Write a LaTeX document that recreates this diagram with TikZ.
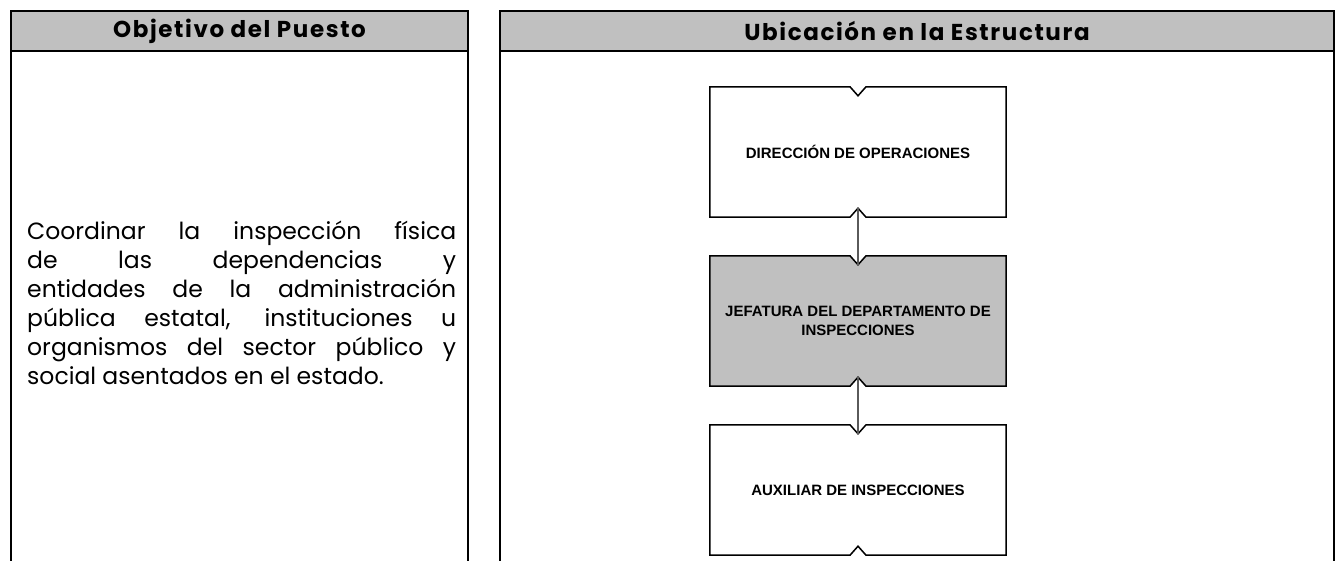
\documentclass[tikz,border=0pt]{standalone}
\usepackage{fontspec}
\setmainfont{Poppins}
\newfontfamily\headfont{Poppins}[LetterSpace=7]
\newfontfamily\boxfont{Liberation Sans}
\usetikzlibrary{backgrounds}
\definecolor{headgray}{HTML}{C0C0C0}
\definecolor{linkgray}{HTML}{5A5A5A}
% notched org-chart box drawn round a named node
\newcommand{\notchbox}[2][]{%
  \draw[line width=1.5pt,#1] (#2.north west) -- ([xshift=-8pt]#2.north)
    -- ([yshift=-9pt]#2.north) -- ([xshift=8pt]#2.north) -- (#2.north east)
    -- (#2.south east) -- ([xshift=8pt]#2.south) -- ([yshift=9pt]#2.south)
    -- ([xshift=-8pt]#2.south) -- (#2.south west) -- cycle;}

\begin{document}
\begin{tikzpicture}
[x=1pt,y=-1pt,%
  panel/.style={line width=2pt},%
  headtext/.style={font=\headfont\bfseries\fontsize{23}{27}\selectfont},%
  orgbox/.style={minimum width=296pt,minimum height=130pt,inner sep=0pt,%
    align=center,font=\boxfont\bfseries\fontsize{15}{18.5}\selectfont},%
  link/.style={draw=linkgray,line width=2pt}]
\useasboundingbox (0,0) rectangle (1340,561);
% left panel
\draw[panel,fill=headgray] (11,11) rectangle (468,51);
\draw[panel] (11,51) -- (11,570) (468,51) -- (468,570);
\node[headtext] (objhead) at (239.5,31) {Objetivo del Puesto};
\node[anchor=north west,text width=429pt,inner sep=0pt,align=justify,%
  font=\fontsize{23.5}{29}\selectfont] (objtext) at (27,220.5)
  {\hyphenpenalty=10000 \tolerance=10000 \hbadness=10000
   Coordinar la inspección física\linebreak
   de las dependencias y\linebreak
   entidades de la administración\linebreak
   pública estatal, instituciones u\linebreak
   organismos del sector público y\linebreak
   social asentados en el estado.};
% right panel
\draw[panel,fill=headgray] (500,11) rectangle (1334,51);
\draw[panel] (500,51) -- (500,570) (1334,51) -- (1334,570);
\node[headtext] (ubihead) at (917,31) {Ubicación en la Estructura};
% org chart
\node[orgbox] (dir) at (858,152) {DIRECCIÓN DE OPERACIONES};
\node[orgbox] (jef) at (858,321) {JEFATURA DEL DEPARTAMENTO DE\\INSPECCIONES};
\node[orgbox] (aux) at (858,490) {AUXILIAR DE INSPECCIONES};
\begin{scope}[on background layer]
  \notchbox[fill=white]{dir}
  \notchbox[fill=headgray]{jef}
  \notchbox[fill=white]{aux}
\end{scope}
\draw[link] ([yshift=9pt]dir.south) -- ([yshift=-9pt]jef.north);
\draw[link] ([yshift=9pt]jef.south) -- ([yshift=-9pt]aux.north);
\end{tikzpicture}
\end{document}
